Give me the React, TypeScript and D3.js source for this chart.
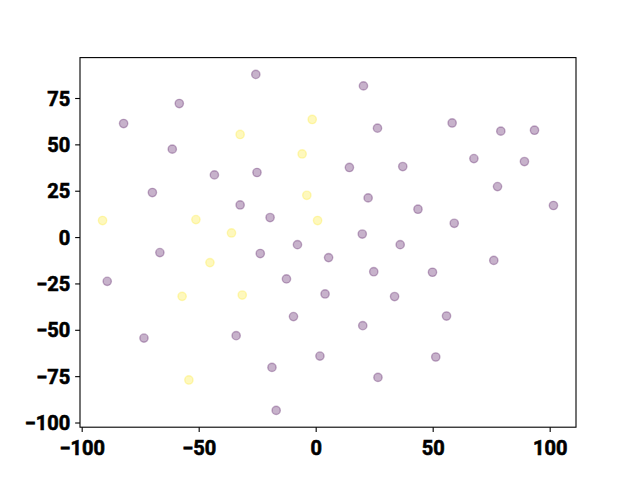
import React from "react";
import * as d3 from "d3";

const purpleX = [-25.8, -58.5, -82.3, -61.5, -43.5, -25.3, -70.0, -32.5, -19.7, -8.0, -66.8, -23.9, 5.3,
  20.2, 26.2, 58.1, 78.9, 93.3, 14.2, 37.0, 67.4, 89.0, 77.5, 22.2, 43.5, 101.4, 59.0, 19.7, 35.9, 75.9,
  -89.3, -12.7, 3.8, -9.7, -73.6, -34.2, 1.6, -18.9, -17.1,
  24.6, 49.7, 33.5, 55.7, 19.9, 51.1, 26.4];
const purpleY = [88.0, 72.3, 61.5, 47.7, 33.8, 35.1, 24.3, 17.6, 10.8, -3.8, -8.1, -8.6, -10.8,
  81.8, 59.0, 61.8, 57.4, 57.9, 37.8, 38.3, 42.6, 41.0, 27.5, 21.4, 15.3, 17.3, 7.7, 1.9, -3.8, -12.3,
  -23.6, -22.3, -30.4, -42.6, -54.2, -52.9, -63.9, -70.0, -93.2,
  -18.4, -18.7, -31.8, -42.3, -47.5, -64.4, -75.4];
const yellowX = [-1.7, -32.5, -6.0, -4.0, -91.3, -51.4, 0.6, -36.2, -45.4, -57.3, -31.6, -54.4];
const yellowY = [63.7, 55.6, 45.1, 22.8, 9.2, 9.7, 9.2, 2.5, -13.5, -31.7, -31.0, -76.8];

const xTicks = [-100, -50, 0, 50, 100];
const yTicks = [-100, -75, -50, -25, 0, 25, 50, 75];

const PURPLE = "#440154";
const YELLOW = "#fde725";

export default function App() {
  const W = 640, H = 480;
  const L = 80, R = 576, T = 57.6, B = 427.2;
  const allX = [...purpleX, ...yellowX];
  const allY = [...purpleY, ...yellowY];
  const [x0, x1] = d3.extent(allX) as [number, number];
  const [y0, y1] = d3.extent(allY) as [number, number];
  const mx = (x1 - x0) * 0.05, my = (y1 - y0) * 0.05;
  const xs = d3.scaleLinear().domain([x0 - mx, x1 + mx]).range([L, R]);
  const ys = d3.scaleLinear().domain([y0 - my, y1 + my]).range([B, T]);
  const fmt = (v: number) => (v < 0 ? "\u2212" + Math.abs(v) : String(v));
  const tick = 4.86;
  const font = "Roboto, 'DejaVu Sans', sans-serif";
  const r = 4.17;
  const pts = (xa: number[], ya: number[], c: string) =>
    xa.map((v, i) => (
      <circle key={c + i} cx={xs(v)} cy={ys(ya[i])} r={r} fill={c} fillOpacity={0.3}
        stroke={c} strokeOpacity={0.3} strokeWidth={1.39} />
    ));
  const textProps = {
    fontFamily: font, fontWeight: "bold" as const, fontSize: 20,
    stroke: "#000", strokeWidth: 0.6, fill: "#000",
  };
  return (
    <svg width={W} height={H} style={{ position: "absolute", left: 0, top: 0 }}>
      <rect x={0} y={0} width={W} height={H} fill="#fff" />
      {pts(purpleX, purpleY, PURPLE)}
      {pts(yellowX, yellowY, YELLOW)}
      <rect x={L} y={T} width={R - L} height={B - T} fill="none" stroke="#000" strokeWidth={1.1} />
      {xTicks.map((t) => (
        <g key={"x" + t}>
          <line x1={xs(t)} x2={xs(t)} y1={B} y2={B + tick} stroke="#000" strokeWidth={1.1} />
          <text x={xs(t)} y={454.5} textAnchor="middle" {...textProps}>{fmt(t)}</text>
        </g>
      ))}
      {yTicks.map((t) => (
        <g key={"y" + t}>
          <line x1={L} x2={L - tick} y1={ys(t)} y2={ys(t)} stroke="#000" strokeWidth={1.1} />
          <text x={70.3} y={ys(t) + 7.1} textAnchor="end" {...textProps}>{fmt(t)}</text>
        </g>
      ))}
    </svg>
  );
}
